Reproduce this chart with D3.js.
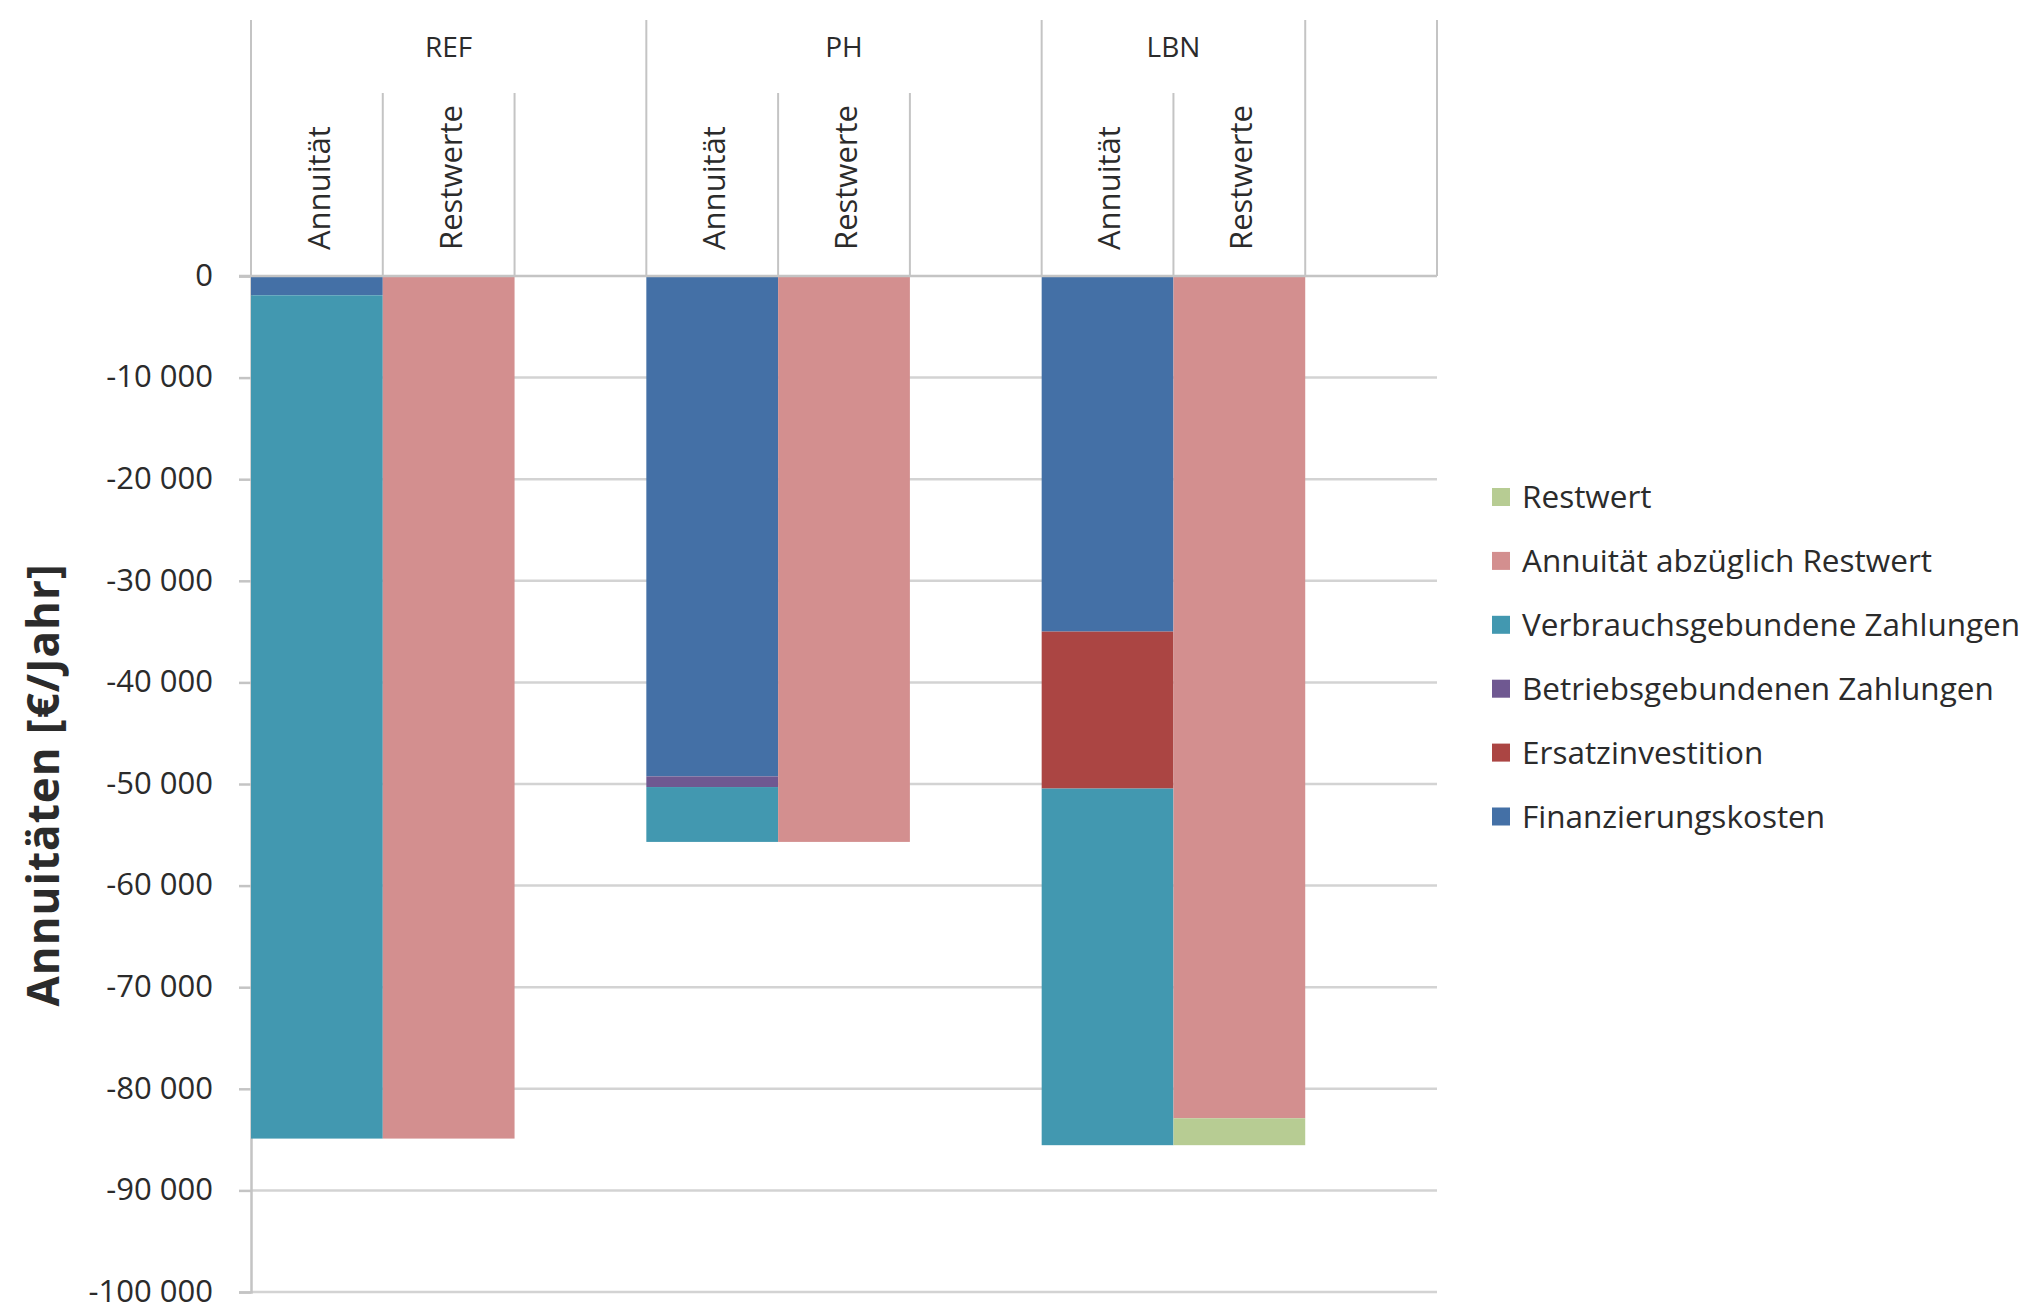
<!DOCTYPE html>
<html>
<head>
<meta charset="utf-8">
<script src="https://cdn.jsdelivr.net/npm/d3@7"></script>
<style>
  html, body { margin: 0; padding: 0; background: #ffffff; }
  svg { display: block; }
  text { font-family: "Open Sans", sans-serif; fill: #2b2b2b; }
</style>
</head>
<body>
<svg id="chart" width="2039" height="1306"></svg>
<script>
// ---- data ----
const groups = ["REF", "PH", "LBN", ""];
const groupSizes = [3, 3, 2, 1];
const subLabels = ["Annuität", "Restwerte", "", "Annuität", "Restwerte", "", "Annuität", "Restwerte", ""];
const seriesNames = ["Finanzierungskosten", "Ersatzinvestition", "Betriebsgebundenen Zahlungen",
                     "Verbrauchsgebundene Zahlungen", "Annuität abzüglich Restwert", "Restwert"];
const seriesColors = ["#4470a6", "#ab4543", "#6f5891", "#4298b0", "#d38f8f", "#b7cc93"];
// values per slot (9 slots), in €/Jahr
const finanzierungskosten = [-1900, 0, 0, -49250, 0, 0, -35000, 0, 0];
const ersatzinvestition   = [0, 0, 0, 0, 0, 0, -15450, 0, 0];
const betriebsgebunden    = [0, 0, 0, -1050, 0, 0, 0, 0, 0];
const verbrauchsgebunden  = [-83000, 0, 0, -5400, 0, 0, -35100, 0, 0];
const annuitaetAbzRestwert = [0, -84900, 0, 0, -55700, 0, 0, -82900, 0];
const restwert            = [0, 0, 0, 0, 0, 0, 0, -2650, 0];
const yTicks = [0, -10000, -20000, -30000, -40000, -50000, -60000, -70000, -80000, -90000, -100000];
const yTitle = "Annuitäten [€/Jahr]";

const seriesValues = [finanzierungskosten, ersatzinvestition, betriebsgebunden,
                      verbrauchsgebunden, annuitaetAbzRestwert, restwert];

// ---- layout ----
const svg = d3.select("#chart");
const plotLeft = 251, plotRight = 1437, y0px = 276, yBottom = 1292;
const headerTop = 20, subTop = 93;

const slots = d3.range(subLabels.length);
const x = d3.scaleBand().domain(slots).range([plotLeft, plotRight]).padding(0);
const y = d3.scaleLinear().domain([0, -100000]).range([y0px, yBottom]);

// gridlines
svg.append("g").selectAll("line").data(yTicks.filter(d => d !== 0)).join("line")
  .attr("x1", plotLeft).attr("x2", plotRight)
  .attr("y1", d => y(d)).attr("y2", d => y(d))
  .attr("stroke", "#d3d3d3").attr("stroke-width", 2.5);

// value axis (left)
const yAxis = d3.axisLeft(y).tickValues(yTicks).tickSize(12).tickPadding(26)
  .tickFormat(d => d3.format(",")(d).replace(/,/g, " ").replace("−", "-"));
const gy = svg.append("g").attr("transform", `translate(${plotLeft},0)`).call(yAxis);
gy.select(".domain").attr("stroke", "#c4c4c4").attr("stroke-width", 2.5);
gy.selectAll(".tick line").attr("stroke", "#c4c4c4").attr("stroke-width", 2.5);
gy.selectAll(".tick text").attr("font-size", 31).attr("font-family", "Open Sans").attr("fill", "#333")
  .attr("dy", "0.3em");

// stacked bars
const stacks = [];
slots.forEach(i => {
  let acc = 0;
  seriesValues.forEach((vals, s) => {
    const v = vals[i];
    if (v !== 0) {
      stacks.push({slot: i, s, top: acc, bottom: acc + v});
      acc += v;
    }
  });
});
svg.append("g").selectAll("rect").data(stacks).join("rect")
  .attr("x", d => x(d.slot)).attr("width", x.bandwidth())
  .attr("y", d => y(d.top)).attr("height", d => y(d.bottom) - y(d.top))
  .attr("fill", d => seriesColors[d.s]);

// category axis line at 0
svg.append("line").attr("x1", plotLeft - 12).attr("x2", plotRight)
  .attr("y1", y(0)).attr("y2", y(0)).attr("stroke", "#c4c4c4").attr("stroke-width", 2.5);

// header: group boundaries
let boundaries = [0];
groupSizes.forEach(n => boundaries.push(boundaries[boundaries.length - 1] + n));
const bx = i => (i < slots.length ? x(i) : plotRight);
svg.append("g").selectAll("line").data(boundaries).join("line")
  .attr("x1", d => bx(d)).attr("x2", d => bx(d))
  .attr("y1", headerTop).attr("y2", y(0))
  .attr("stroke", "#c4c4c4").attr("stroke-width", 2);

// header: sub boundaries within groups
const subBounds = [];
let start = 0;
groupSizes.forEach(n => {
  for (let k = 1; k < n; k++) subBounds.push(start + k);
  start += n;
});
svg.append("g").selectAll("line").data(subBounds).join("line")
  .attr("x1", d => x(d)).attr("x2", d => x(d))
  .attr("y1", subTop).attr("y2", y(0))
  .attr("stroke", "#c4c4c4").attr("stroke-width", 2);

// group labels
start = 0;
const groupPos = groups.map((g, i) => {
  const a = start, b = start + groupSizes[i];
  start = b;
  return {g, cx: (bx(a) + bx(b)) / 2};
});
svg.append("g").selectAll("text").data(groupPos).join("text")
  .attr("x", d => d.cx).attr("y", 47).attr("dy", "0.35em")
  .attr("text-anchor", "middle").attr("font-size", 28)
  .text(d => d.g);

// sub labels rotated
svg.append("g").selectAll("text").data(slots.filter(i => subLabels[i] !== "")).join("text")
  .attr("transform", i => `translate(${x(i) + x.bandwidth() / 2 + 2},250) rotate(-90)`)
  .attr("dy", "0.35em").attr("text-anchor", "start").attr("font-size", 31)
  .text(i => subLabels[i]);

// y title
svg.append("text")
  .attr("transform", `translate(44,785) rotate(-90)`)
  .attr("text-anchor", "middle").attr("dy", "0.35em")
  .attr("font-size", 44).attr("font-weight", "bold").attr("fill", "#1a1a1a")
  .attr("letter-spacing", 1)
  .text(yTitle);

// legend (reverse order)
const legendOrder = d3.range(seriesNames.length).reverse();
const lg = svg.append("g").attr("transform", "translate(1492,497)");
const rows = lg.selectAll("g").data(legendOrder).join("g")
  .attr("transform", (d, i) => `translate(0,${i * 63.9})`);
rows.append("rect").attr("x", 0).attr("y", -9).attr("width", 18).attr("height", 18)
  .attr("fill", d => seriesColors[d]);
rows.append("text").attr("x", 30).attr("dy", "0.35em").attr("font-size", 31.5)
  .text(d => seriesNames[d]);
</script>
</body>
</html>
